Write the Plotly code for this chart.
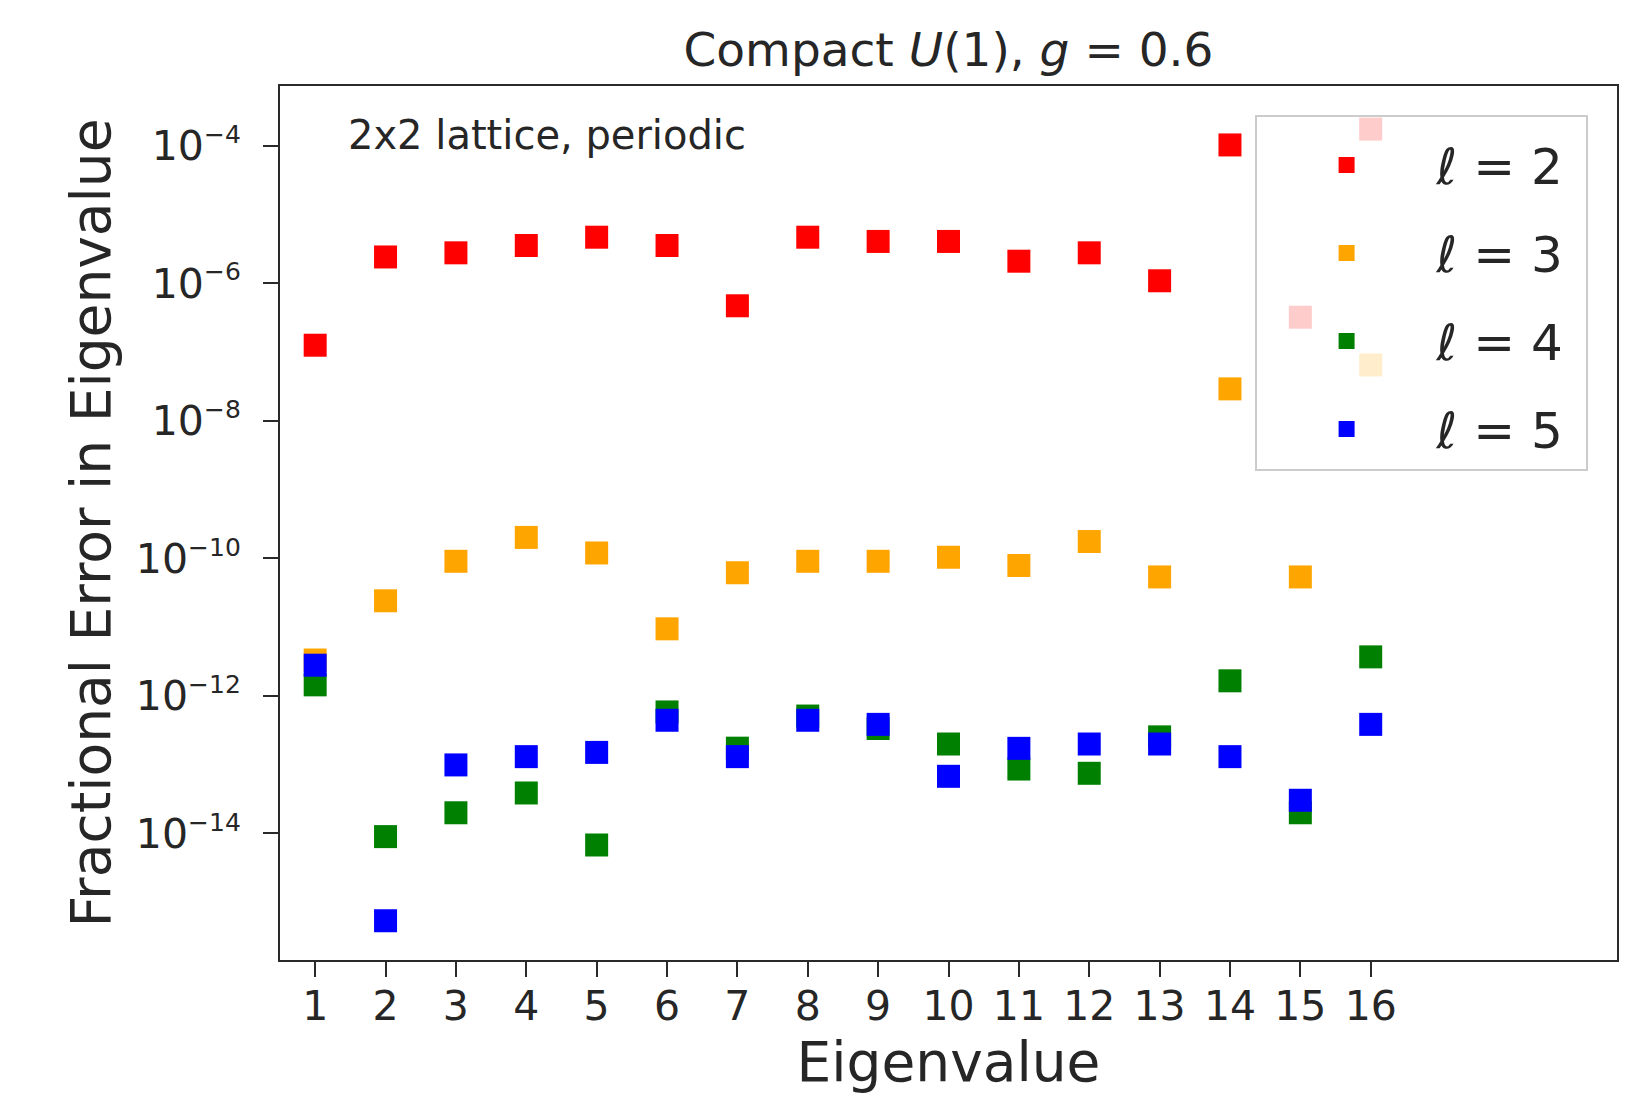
import plotly.graph_objects as go

eigen_index = list(range(1, 17))

err_l2 = [1.26e-7, 2.42e-6, 2.78e-6, 3.55e-6, 4.69e-6, 3.55e-6, 4.72e-7, 4.69e-6,
          4.07e-6, 4.07e-6, 2.10e-6, 2.78e-6, 1.09e-6, 1.03e-4, 3.22e-7, 1.75e-4]
err_l3 = [3.33e-12, 2.42e-11, 9.08e-11, 2.02e-10, 1.20e-10, 9.46e-12, 6.19e-11, 9.08e-11,
          9.08e-11, 1.04e-10, 7.89e-11, 1.76e-10, 5.38e-11, 2.92e-8, 5.38e-11, 6.5e-8]
err_l4 = [1.45e-12, 9.0e-15, 2.0e-14, 3.88e-14, 6.8e-15, 5.85e-13, 1.74e-13, 5.1e-13,
          3.36e-13, 2.0e-13, 8.65e-14, 7.5e-14, 2.54e-13, 1.66e-12, 2.0e-14, 3.7e-12]
err_l5 = [2.8e-12, 5.38e-16, 9.93e-14, 1.31e-13, 1.51e-13, 4.43e-13, 1.31e-13, 4.43e-13,
          3.86e-13, 6.78e-14, 1.73e-13, 2.0e-13, 2.0e-13, 1.31e-13, 3.04e-14, 3.86e-13]

series_names = ["ℓ = 2", "ℓ = 3", "ℓ = 4", "ℓ = 5"]
series_colors = ["#ff0000", "#ffa500", "#008000", "#0000ff"]
series_values = [err_l2, err_l3, err_l4, err_l5]

y_tick_exps = [-4, -6, -8, -10, -12, -14]
y_tick_vals = [10.0 ** e for e in y_tick_exps]
y_tick_text = ["10<sup><span style='font-size:25px'>\u2212%d</span></sup>" % (-e) for e in y_tick_exps]

FONT = "DejaVu Sans"
TXT = "#262626"

fig = go.Figure()
for i, (name, color, vals) in enumerate(zip(series_names, series_colors, series_values)):
    fig.add_trace(go.Scatter(
        x=eigen_index, y=vals, mode="markers", name=name + "\u00a0",
        legendgroup="g%d" % i,
        marker=dict(symbol="square", size=23, color=color, line=dict(width=0)),
    ))

axis_common = dict(
    showline=True, mirror=True, linecolor="#2a2a2a", linewidth=2,
    ticks="outside", ticklen=15, tickwidth=2, tickcolor="#2a2a2a",
    showgrid=False, zeroline=False,
    tickfont=dict(family=FONT, size=41, color=TXT),
)

fig.update_xaxes(
    range=[0.5, 19.5], tickmode="array", tickvals=eigen_index,
    ticktext=[str(v) for v in eigen_index],
    ticklabelstandoff=-6,
    title=dict(text="Eigenvalue", font=dict(family=FONT, size=55, color=TXT), standoff=13),
    **axis_common,
)
fig.update_yaxes(
    type="log", range=[-15.84, -3.13], tickmode="array",
    tickvals=y_tick_vals, ticktext=y_tick_text,
    ticklabelstandoff=14,
    title=dict(text="Fractional Error in Eigenvalue", font=dict(family=FONT, size=55, color=TXT), standoff=8),
    **axis_common,
)

fig.update_layout(
    width=1630, height=1095,
    margin=dict(l=272, r=21, t=78, b=143),
    paper_bgcolor="white", plot_bgcolor="white",
    font=dict(family=FONT, color=TXT),
    title=dict(text="Compact <i>U</i>(1), <i>g</i> = 0.6", x=0.5, xref="paper", xanchor="center",
               y=1 - 41.5 / 1095, yref="container", yanchor="middle",
               font=dict(family=FONT, size=47, color=TXT)),
    legend=dict(
        x=0.978, xanchor="right", y=0.967, yanchor="top",
        bgcolor="rgba(255,255,255,0.8)", bordercolor="#cccccc", borderwidth=2,
        font=dict(family=FONT, size=50, color=TXT),
        title=dict(text=" ", font=dict(family=FONT, size=7)),
        tracegroupgap=20, itemwidth=170,
    ),
    showlegend=True,
    annotations=[dict(
        text="2x2 lattice, periodic", xref="paper", yref="paper",
        x=0.049, y=0.944, xanchor="left", yanchor="middle", showarrow=False,
        font=dict(family=FONT, size=40, color=TXT),
    )],
)

fig.write_html("out.html")
